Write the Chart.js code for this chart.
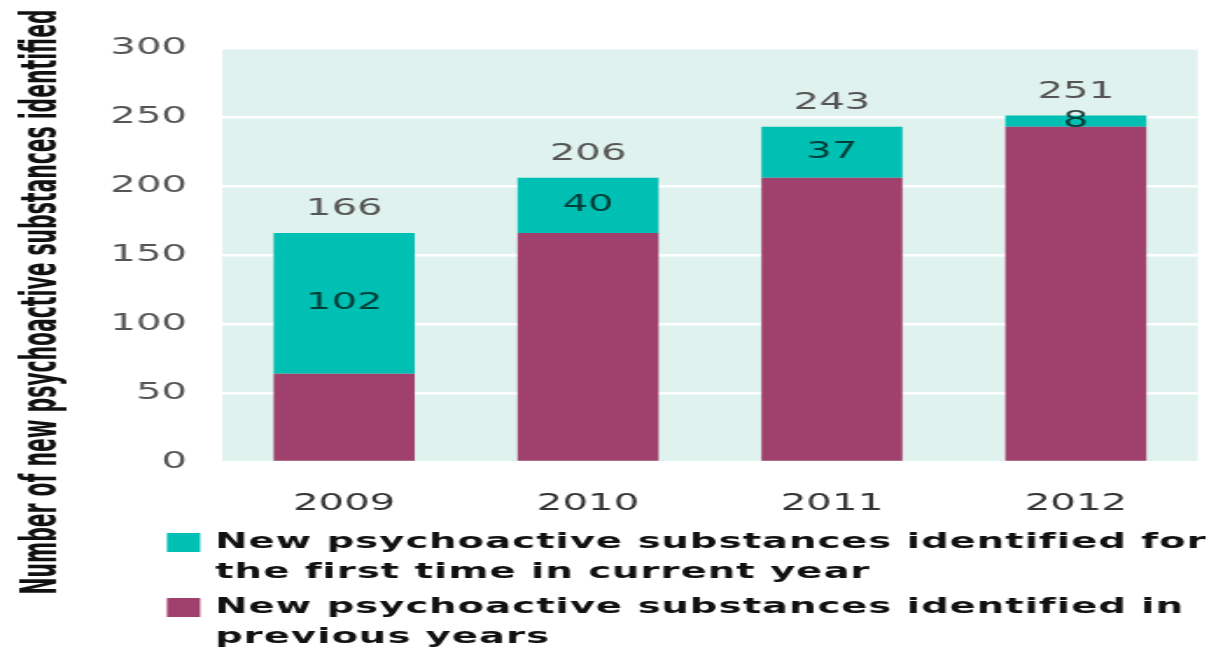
<!DOCTYPE html>
<html>
<head>
<meta charset="utf-8">
<script src="https://cdn.jsdelivr.net/npm/chart.js@4"></script>
<style>
  html, body { margin: 0; padding: 0; background: #fff; overflow: hidden; }
  /* the reference is a horizontally stretched figure, so draw narrow and stretch */
  #wrap { width: 695px; height: 649px; transform: scaleX(1.7496); transform-origin: 0 0; }
</style>
</head>
<body>
<div id="wrap"><canvas id="chart"></canvas></div>
<script>
const years = ["2009", "2010", "2011", "2012"];
const previousYears = [64, 166, 206, 243];
const firstTime = [102, 40, 37, 8];
const totals = [166, 206, 243, 251];
const yTicks = [0, 50, 100, 150, 200, 250, 300];
const yTitle = "Number of new psychoactive substances identified";
const legendFirst = ["New psychoactive substances identified for", "the first time in current year"];
const legendPrevious = ["New psychoactive substances identified in", "previous years"];

const TEAL = "#00bfb3";
const PURPLE = "#a0406c";
const FONT = "'DejaVu Sans', sans-serif";

const plotBackground = {
  id: "plotBackground",
  beforeDraw(chart) {
    const { ctx, chartArea: a } = chart;
    ctx.save();
    ctx.fillStyle = "#e0f2ee";
    ctx.fillRect(a.left, a.top, a.right - a.left, a.bottom - a.top);
    ctx.restore();
  }
};

const barLabels = {
  id: "barLabels",
  afterDatasetsDraw(chart) {
    const { ctx } = chart;
    const meta = chart.getDatasetMeta(1);
    ctx.save();
    ctx.font = "23px " + FONT;
    ctx.textAlign = "center";
    ctx.textBaseline = "middle";
    meta.data.forEach((bar, i) => {
      ctx.fillStyle = "rgba(0, 30, 28, 0.8)";
      ctx.fillText(String(firstTime[i]), bar.x, (bar.y + bar.base) / 2);
      ctx.fillStyle = "#555";
      ctx.fillText(String(totals[i]), bar.x, bar.y - 24);
    });
    ctx.restore();
  }
};

const extras = {
  id: "extras",
  afterDraw(chart) {
    const { ctx } = chart;
    ctx.save();
    // y axis title, squeezed along its length to fit like the original
    ctx.translate(32, 302);
    ctx.rotate(-Math.PI / 2);
    ctx.font = "bold 29px 'Liberation Sans Narrow', 'DejaVu Sans Condensed', sans-serif";
    const w = ctx.measureText(yTitle).width;
    ctx.scale(585 / w, 1);
    ctx.fillStyle = "#111";
    ctx.textAlign = "center";
    ctx.textBaseline = "alphabetic";
    ctx.fillText(yTitle, 0, 0);
    ctx.restore();

    // legend
    ctx.save();
    ctx.font = "bold 22px " + FONT;
    ctx.letterSpacing = "0.6px";
    ctx.textAlign = "left";
    ctx.textBaseline = "alphabetic";
    ctx.fillStyle = TEAL;
    ctx.fillRect(95.4, 533, 19, 19);
    ctx.fillStyle = PURPLE;
    ctx.fillRect(95.4, 598, 19, 19);
    ctx.fillStyle = "#111";
    ctx.fillText(legendFirst[0], 123, 548);
    ctx.fillText(legendFirst[1], 123, 578);
    ctx.fillText(legendPrevious[0], 123, 613);
    ctx.fillText(legendPrevious[1], 123, 643);
    ctx.restore();
  }
};

new Chart(document.getElementById("chart"), {
  type: "bar",
  data: {
    labels: years,
    datasets: [
      {
        label: legendPrevious.join(" "),
        data: previousYears,
        backgroundColor: PURPLE,
        barPercentage: 0.578,
        categoryPercentage: 1
      },
      {
        label: legendFirst.join(" "),
        data: firstTime,
        backgroundColor: TEAL,
        barPercentage: 0.578,
        categoryPercentage: 1
      }
    ]
  },
  options: {
    responsive: true,
    maintainAspectRatio: false,
    animation: false,
    devicePixelRatio: 1,
    layout: { padding: { top: 48, right: 10.4, bottom: 117, left: 0 } },
    plugins: {
      legend: { display: false },
      tooltip: { enabled: false }
    },
    scales: {
      x: {
        stacked: true,
        grid: { display: false },
        border: { display: false },
        ticks: { color: "#333", font: { family: FONT, size: 23 }, padding: 20 },
        afterFit: (s) => { s.height = 70; }
      },
      y: {
        stacked: true,
        min: 0,
        max: 300,
        afterBuildTicks: (s) => { s.ticks = yTicks.map(v => ({ value: v })); },
        grid: { color: "#ffffff", lineWidth: 2.5, drawTicks: false },
        border: { display: false },
        ticks: { color: "#555", font: { family: FONT, size: 23 }, padding: 20 },
        afterFit: (s) => { s.width = 127; }
      }
    }
  },
  plugins: [plotBackground, barLabels, extras]
});
</script>
</body>
</html>
